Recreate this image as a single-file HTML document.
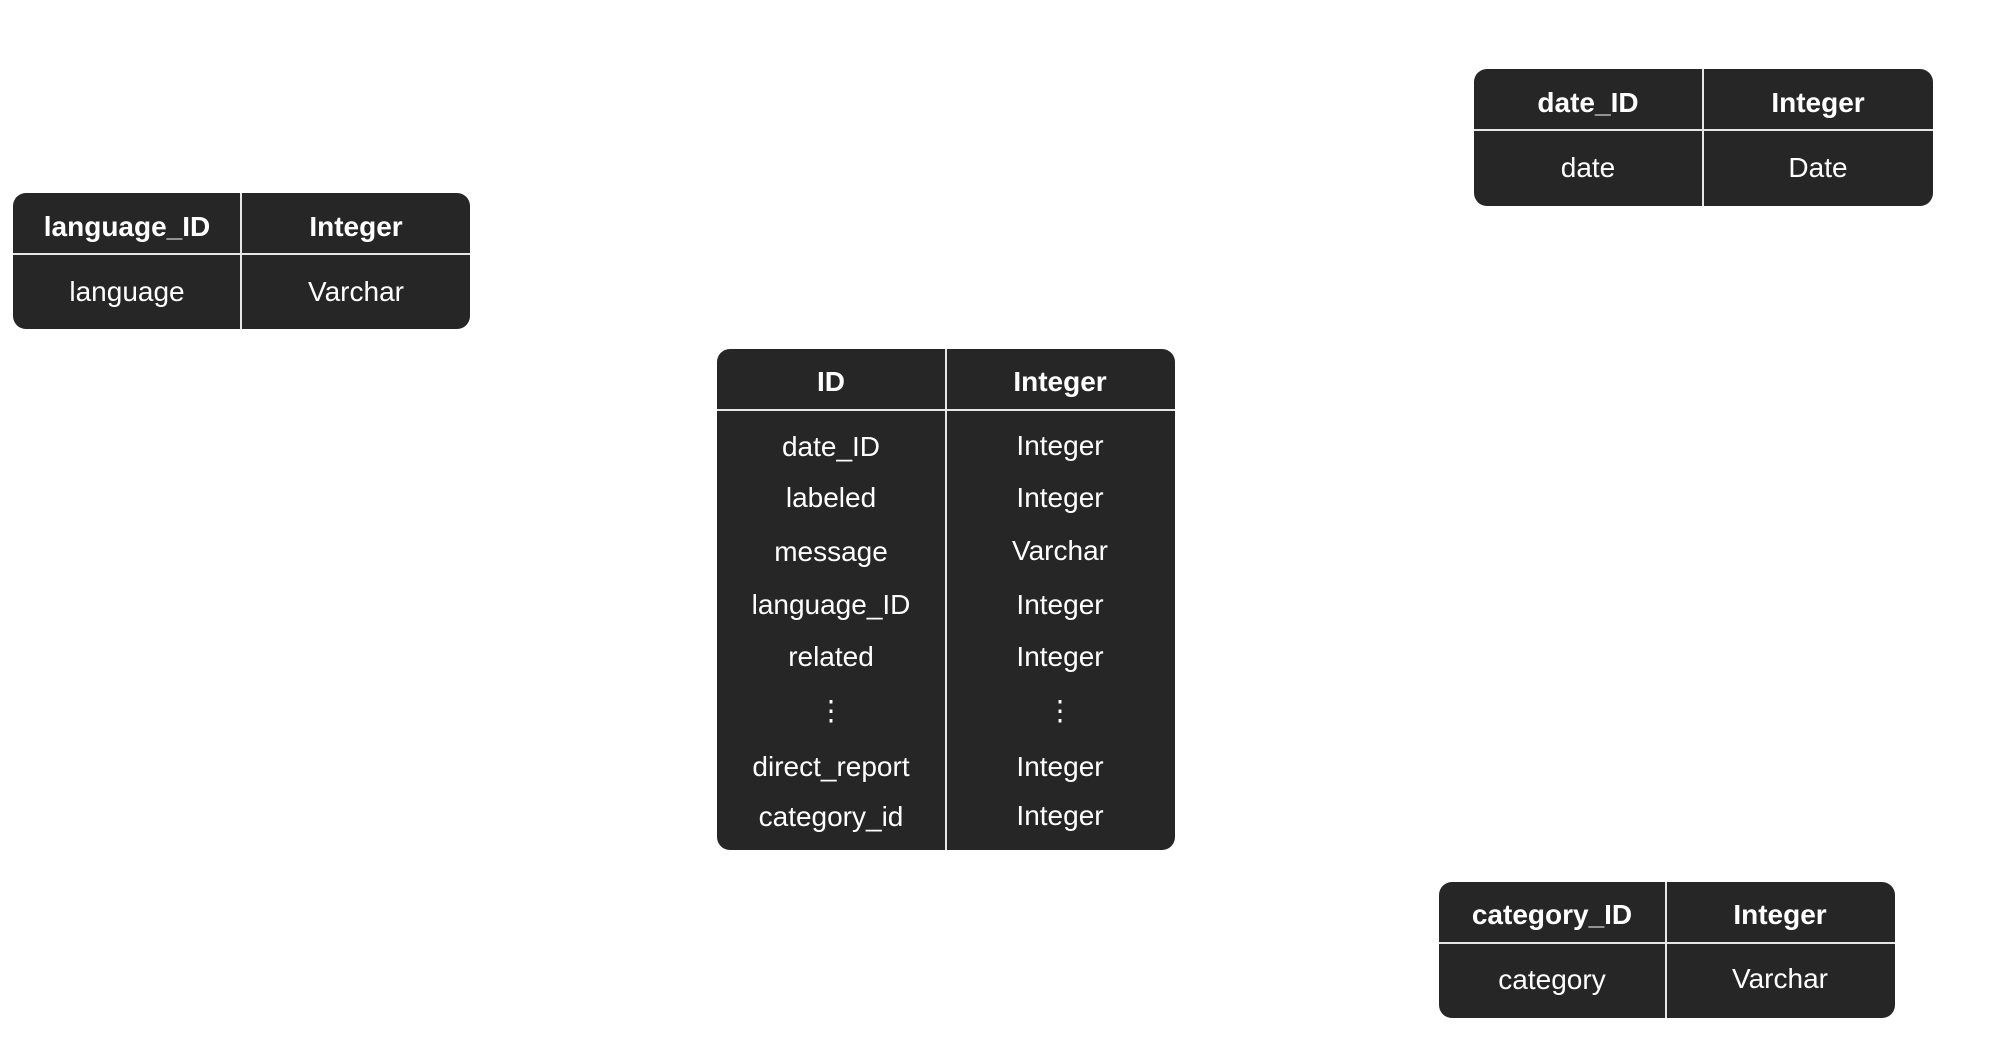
<!DOCTYPE html>
<html><head><style>
html,body{margin:0;padding:0;background:#fff;}
body{width:1999px;height:1056px;position:relative;overflow:hidden;font-family:"Liberation Sans",sans-serif;}
.t{position:absolute;background:#262626;border-radius:13px;}
.v{position:absolute;top:0;bottom:0;width:2px;background:#e6e6e6;}
.h{position:absolute;left:0;right:0;height:2px;background:#e6e6e6;}
.x{position:absolute;color:#fff;font-size:28px;transform:translate(-50%,-50%);white-space:nowrap;line-height:1;}
.b{font-weight:bold;}
</style></head><body>

<div class="t" style="left:13px;top:193px;width:457px;height:136px;">
 <div class="v" style="left:227px"></div><div class="h" style="top:60px"></div>
 <div class="x b" style="left:114px;top:34px">language_ID</div>
 <div class="x b" style="left:343px;top:34px">Integer</div>
 <div class="x" style="left:114px;top:99px">language</div>
 <div class="x" style="left:343px;top:99px">Varchar</div>
</div>

<div class="t" style="left:1474px;top:69px;width:459px;height:137px;">
 <div class="v" style="left:228px"></div><div class="h" style="top:60px"></div>
 <div class="x b" style="left:114px;top:34px">date_ID</div>
 <div class="x b" style="left:344px;top:34px">Integer</div>
 <div class="x" style="left:114px;top:99px">date</div>
 <div class="x" style="left:344px;top:99px">Date</div>
</div>

<div class="t" style="left:1439px;top:882px;width:456px;height:136px;">
 <div class="v" style="left:226px"></div><div class="h" style="top:60px"></div>
 <div class="x b" style="left:113px;top:33px">category_ID</div>
 <div class="x b" style="left:341px;top:33px">Integer</div>
 <div class="x" style="left:113px;top:98px">category</div>
 <div class="x" style="left:341px;top:97px">Varchar</div>
</div>

<div class="t" style="left:717px;top:349px;width:458px;height:501px;">
 <div class="v" style="left:228px"></div><div class="h" style="top:60px"></div>
 <div class="x b" style="left:114px;top:33px">ID</div>
 <div class="x b" style="left:343px;top:33px">Integer</div>
 <div class="x" style="left:114px;top:98px">date_ID</div>
 <div class="x" style="left:343px;top:97px">Integer</div>
 <div class="x" style="left:114px;top:149px">labeled</div>
 <div class="x" style="left:343px;top:149px">Integer</div>
 <div class="x" style="left:114px;top:203px">message</div>
 <div class="x" style="left:343px;top:202px">Varchar</div>
 <div class="x" style="left:114px;top:256px">language_ID</div>
 <div class="x" style="left:343px;top:256px">Integer</div>
 <div class="x" style="left:114px;top:308px">related</div>
 <div class="x" style="left:343px;top:308px">Integer</div>
 <div class="x" style="left:114px;top:362px">⋮</div>
 <div class="x" style="left:343px;top:362px">⋮</div>
 <div class="x" style="left:114px;top:418px">direct_report</div>
 <div class="x" style="left:343px;top:418px">Integer</div>
 <div class="x" style="left:114px;top:468px">category_id</div>
 <div class="x" style="left:343px;top:467px">Integer</div>
</div>

</body></html>
